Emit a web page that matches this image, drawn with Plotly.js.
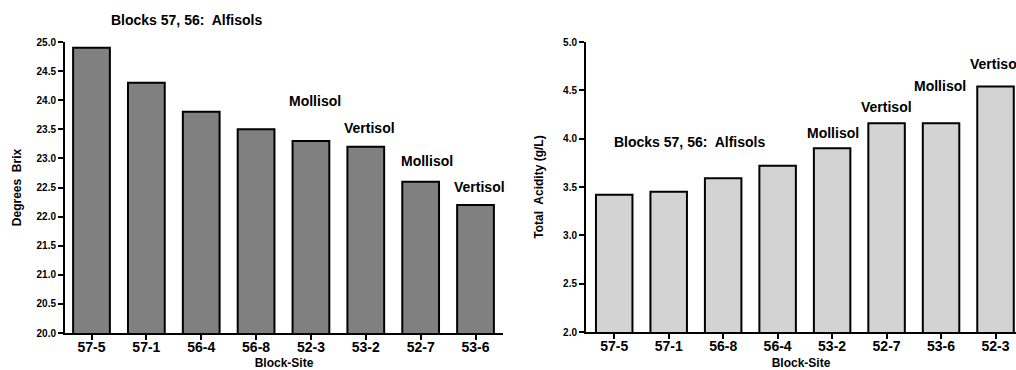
<!DOCTYPE html>
<html>
<head>
<meta charset="utf-8">
<script src="https://cdn.plot.ly/plotly-3.0.1.min.js"></script>
<style>html,body{margin:0;padding:0;background:#fff;}#chart{width:1016px;height:370px;}</style>
</head>
<body>
<div id="chart"></div>
<script>
// Left panel: sugar (Degrees Brix)
const brixSites = ["57-5", "57-1", "56-4", "56-8", "52-3", "53-2", "52-7", "53-6"];
const brixValues = [24.9, 24.3, 23.8, 23.5, 23.3, 23.2, 22.6, 22.2];
// Right panel: total acidity (g/L)
const acidSites = ["57-5", "57-1", "56-8", "56-4", "53-2", "52-7", "53-6", "52-3"];
const acidValues = [3.42, 3.45, 3.59, 3.72, 3.90, 4.16, 4.16, 4.54];
// Soil labels
const alfisolLabel = "Blocks 57, 56:  Alfisols";
const brixSoilLabels = ["Mollisol", "Vertisol", "Mollisol", "Vertisol"];
const acidSoilLabels = ["Mollisol", "Vertisol", "Mollisol", "Vertisol"];

const FONT = "Liberation Sans, Arial, Helvetica, sans-serif";
const bold = t => "<b>" + t + "</b>";

const traces = [
  {
    type: "bar", x: brixSites, y: brixValues, xaxis: "x", yaxis: "y",
    marker: {color: "#808080", line: {color: "#000", width: 2}},
    hoverinfo: "x+y", showlegend: false
  },
  {
    type: "bar", x: acidSites, y: acidValues, xaxis: "x2", yaxis: "y2",
    marker: {color: "#d3d3d3", line: {color: "#000", width: 2}},
    hoverinfo: "x+y", showlegend: false
  }
];

const axisCommon = {
  showline: true, linewidth: 2, linecolor: "#000",
  ticks: "outside", ticklen: 5, tickwidth: 2, tickcolor: "#000",
  showgrid: false, zeroline: false, automargin: false
};

const xTickFont = {family: FONT, size: 14, color: "#000", weight: "bold"};
const yTickFont = {family: FONT, size: 10, color: "#000", weight: "bold"};
const titleFont = {family: FONT, size: 12, color: "#000", weight: "bold"};
const annFont = {family: FONT, size: 14, color: "#000", weight: "bold"};

const ann = (xref, yref, x, y, text) => ({
  xref, yref, x, y, text: bold(text), showarrow: false,
  xanchor: "center", yanchor: "middle", font: annFont
});

const annotations = [
  ann("x", "paper", 1.74, 0.9446, alfisolLabel),
  ann("x", "y", 4.07, 23.99, brixSoilLabels[0]),
  ann("x", "y", 5.07, 23.53, brixSoilLabels[1]),
  ann("x", "y", 6.11, 22.96, brixSoilLabels[2]),
  ann("x", "y", 7.07, 22.51, brixSoilLabels[3]),
  ann("x2", "y2", 1.39, 3.966, alfisolLabel),
  ann("x2", "y2", 4.01, 4.056, acidSoilLabels[0]),
  ann("x2", "y2", 4.99, 4.323, acidSoilLabels[1]),
  ann("x2", "y2", 5.98, 4.548, acidSoilLabels[2]),
  ann("x2", "y2", 7.00, 4.772, acidSoilLabels[3])
];

const layout = {
  width: 1016, height: 370,
  margin: {l: 0, r: 0, t: 0, b: 0, pad: 0},
  paper_bgcolor: "#fff", plot_bgcolor: "rgba(0,0,0,0)",
  bargap: 0.33,
  font: {family: FONT, color: "#000"},
  xaxis: Object.assign({}, axisCommon, {
    domain: [65/1016, 503/1016], range: [-0.483, 7.501],
    type: "category", tickfont: xTickFont, anchor: "y", ticklabelstandoff: -5,
    title: {text: bold("Block-Site"), font: titleFont, standoff: 8}
  }),
  yaxis: Object.assign({}, axisCommon, {
    domain: [37/370, 328/370], range: [20, 25], dtick: 0.5, tick0: 20,
    tickformat: ".1f", tickfont: yTickFont, anchor: "x",
    title: {text: bold("Degrees  Brix"), font: titleFont, standoff: 12}
  }),
  xaxis2: Object.assign({}, axisCommon, {
    domain: [586/1016, 1], range: [-0.518, 7.376],
    type: "category", tickfont: xTickFont, anchor: "y2", ticklabelstandoff: -5,
    title: {text: bold("Block-Site"), font: titleFont, standoff: 8}
  }),
  yaxis2: Object.assign({}, axisCommon, {
    domain: [38/370, 328/370], range: [2, 5], dtick: 0.5, tick0: 2,
    tickformat: ".1f", tickfont: yTickFont, anchor: "x2",
    title: {text: bold("Total  Acidity (g/L)"), font: titleFont, standoff: 17}
  }),
  annotations: annotations
};

Plotly.newPlot("chart", traces, layout, {displayModeBar: false, staticPlot: true});
</script>
</body>
</html>
